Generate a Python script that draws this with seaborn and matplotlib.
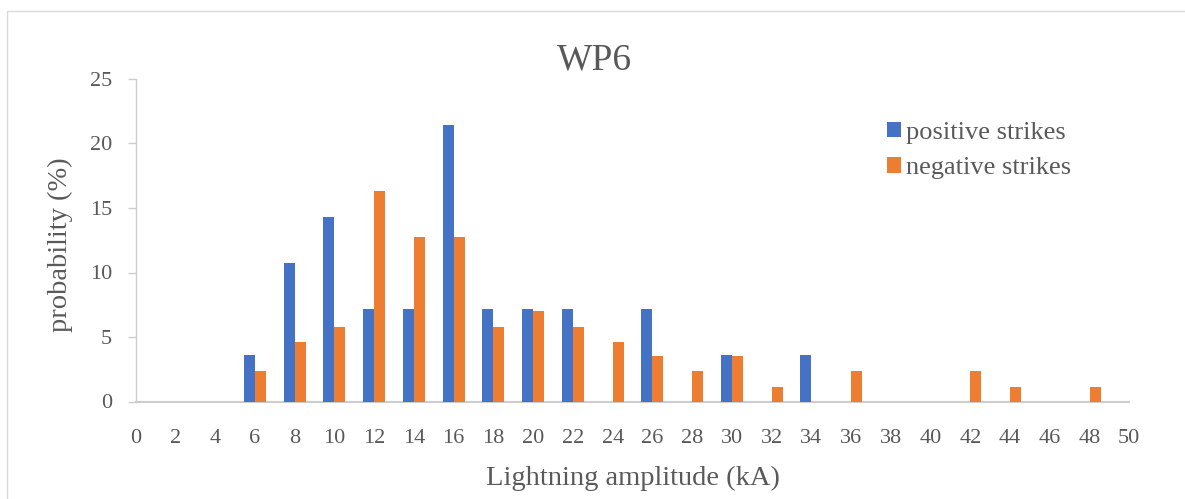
import numpy as np
import pandas as pd
import matplotlib
matplotlib.use("Agg")
import matplotlib.pyplot as plt
from matplotlib.patches import Rectangle
import seaborn as sns

# Amplitude bins (kA) and probability (%) per bin
amplitude = [0, 2, 4, 6, 8, 10, 12, 14, 16, 18, 20, 22, 24, 26, 28, 30, 32, 34,
             36, 38, 40, 42, 44, 46, 48, 50]
positive = [0, 0, 0, 3.57, 10.71, 14.29, 7.14, 7.14, 21.43, 7.14, 7.14, 7.14, 0,
            7.14, 0, 3.57, 0, 3.57, 0, 0, 0, 0, 0, 0, 0, 0]
negative = [0, 0, 0, 2.33, 4.65, 5.81, 16.28, 12.79, 12.79, 5.81, 6.98, 5.81,
            4.65, 3.49, 2.33, 3.49, 1.16, 0, 2.33, 0, 0, 2.33, 1.16, 0, 1.16, 0]
series_names = ["positive strikes", "negative strikes"]
y_ticks = [0, 5, 10, 15, 20, 25]

labels = [str(a) for a in amplitude]
df = pd.DataFrame({
    "amplitude": labels * 2,
    "probability": positive + negative,
    "series": [series_names[0]] * len(labels) + [series_names[1]] * len(labels),
})

sns.set_theme(style="white")
plt.rcParams["font.family"] = ["Liberation Serif", "DejaVu Serif"]
TEXT = "#595959"
AXIS = "#CDCDCD"

W, H = 1185, 499
fig = plt.figure(figsize=(W / 100, H / 100), dpi=100)
x0, x1 = 135.7, 1129.3
y0, y1 = 401.5, 79.0
ax = fig.add_axes([x0 / W, 1 - y0 / H, (x1 - x0) / W, (y0 - y1) / H])

sns.barplot(data=df, x="amplitude", y="probability", hue="series",
            order=labels, hue_order=series_names,
            palette=["#4472C4", "#ED7D31"], width=0.555, gap=0,
            linewidth=0, saturation=1, ax=ax)

ax.set_xlim(0, len(labels) - 1)
ax.set_ylim(0, 25)
ax.set_yticks(y_ticks)
ax.set_yticklabels([str(t) for t in y_ticks])

for side in ["top", "right"]:
    ax.spines[side].set_visible(False)
ax.spines["left"].set_color(AXIS)
ax.spines["left"].set_linewidth(1.0)
ax.spines["bottom"].set_color(AXIS)
ax.spines["bottom"].set_linewidth(1.5)
ax.spines["bottom"].set_zorder(0.5)

ax.tick_params(axis="y", which="major", left=True, length=6, width=1.0,
               color=AXIS, labelsize=16, labelcolor=TEXT, pad=11)
ax.tick_params(axis="x", which="major", bottom=False, length=0,
               labelsize=16, labelcolor=TEXT, pad=19.5)

ax.set_xlabel("Lightning amplitude (kA)", fontsize=20.5, color=TEXT, labelpad=13.5)
ax.set_ylabel("probability (%)", fontsize=20.5, color=TEXT, labelpad=12)
ax.yaxis.label.set_y(0.5 - 4 / (y0 - y1))
fig.text(594 / W, 1 - 60 / H, "WP6", ha="center", va="center",
         fontsize=27, color=TEXT)

leg = ax.legend(loc="upper left", bbox_to_anchor=(876 / W, 1 - 111 / H),
                bbox_transform=fig.transFigure, frameon=False, fontsize=19,
                handlelength=0.55, handleheight=0.55, handletextpad=0.2,
                labelspacing=0.5, borderaxespad=0)
for t in leg.get_texts():
    t.set_color(TEXT)

# Chart-area border
fig.patches.append(Rectangle((7 / W, -0.05), 1.2, 1.05 - 10.5 / H,
                             transform=fig.transFigure, fill=False,
                             edgecolor="#D9D9D9", linewidth=1.0))

fig.savefig("out.png", dpi=100)
